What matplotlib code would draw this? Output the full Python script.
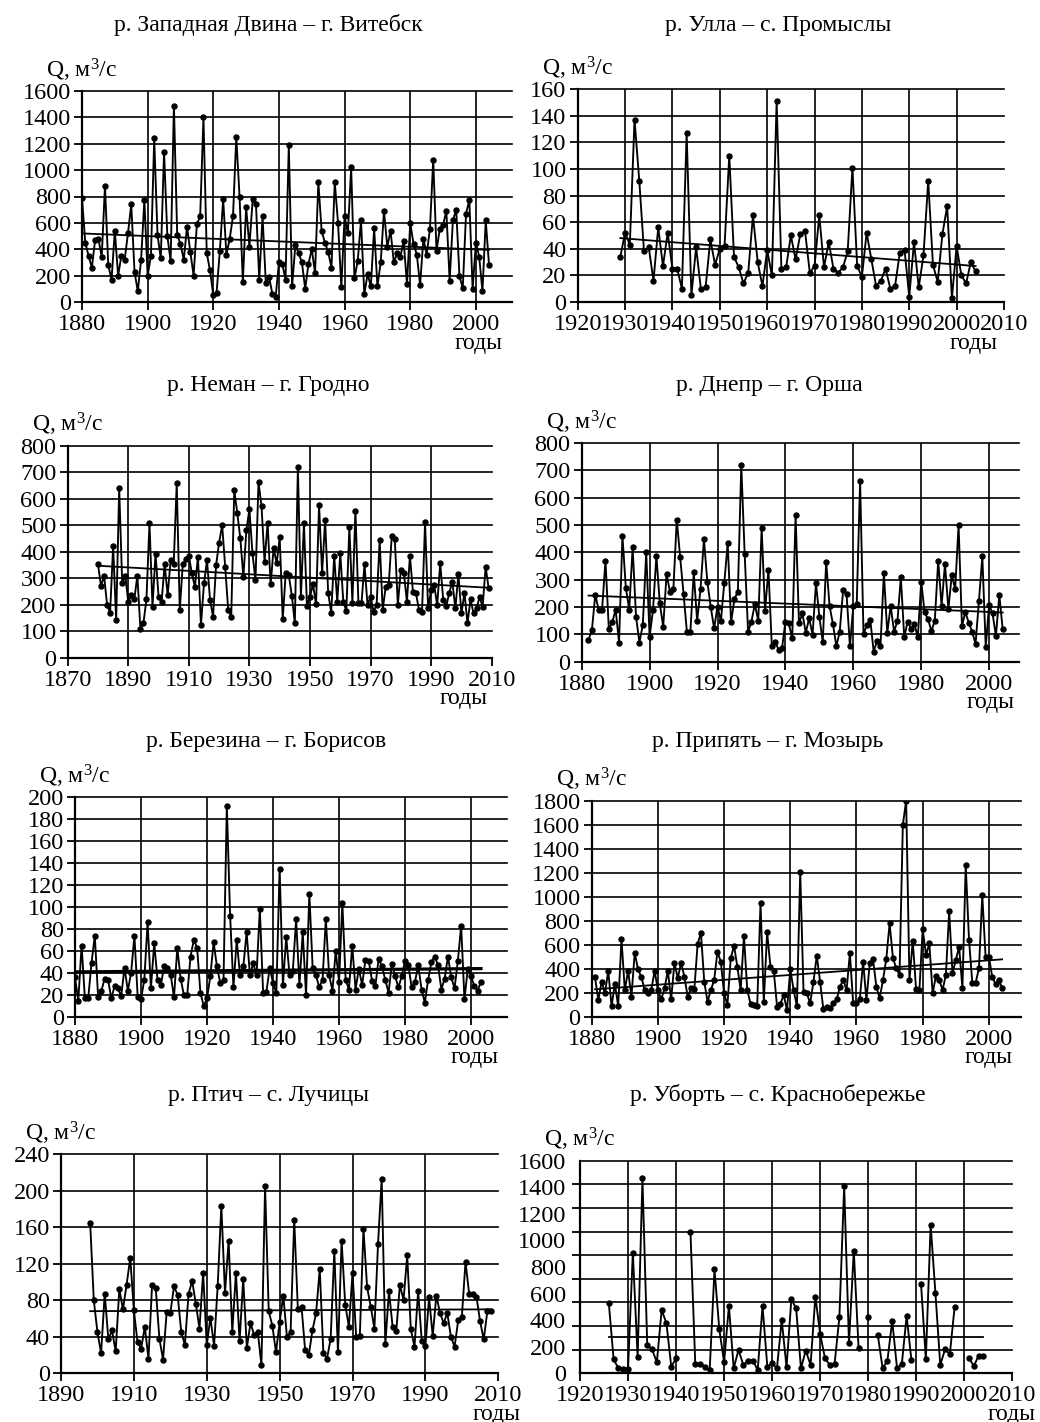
import matplotlib
matplotlib.use("Agg")
import matplotlib.pyplot as plt
import numpy as np

plt.rcParams['font.family'] = ['Liberation Serif', 'DejaVu Serif']
plt.rcParams['mathtext.fontset'] = 'custom'
plt.rcParams['mathtext.rm'] = 'Liberation Serif'
plt.rcParams['mathtext.it'] = 'Liberation Serif:italic'

# --- data (mean annual discharge, m3/s) ---
dvina_start = 1880
dvina_q = [790, 450, 350, 260, 470, 480, 340, 880, 280, 170,
           540, 200, 350, 320, 520, 740, 230, 80, 320, 770,
           200, 350, 1240, 510, 330, 1140, 500, 310, 1490, 510,
           440, 320, 570, 380, 200, 590, 650, 1400, 370, 240,
           50, 70, 390, 780, 360, 480, 650, 1250, 800, 150,
           720, 420, 780, 740, 170, 650, 145, 190, 60, 40,
           300, 290, 170, 1190, 120, 430, 370, 300, 100, 290,
           400, 220, 910, 540, 450, 380, 260, 910, 600, 110,
           650, 520, 1020, 180, 310, 620, 60, 210, 120, 560,
           120, 300, 690, 420, 540, 300, 370, 345, 460, 135,
           600, 440, 360, 130, 480, 360, 555, 1080, 390, 555,
           585, 690, 160, 620, 700, 195, 105, 670, 775, 98,
           450, 345, 80, 620, 280]
dvina_trend = [520, 395]

ulla_start = 1929
ulla_q = [34, 52, 43, 137, 91, 38, 41, 16, 56, 27,
          52, 25, 25, 10, 127, 5, 41, 10, 11, 47,
          28, 40, 42, 110, 34, 26, 14, 22, 65, 30,
          12, 39, 20, 151, 25, 26, 50, 32, 51, 53,
          22, 27, 65, 26, 45, 25, 22, 26, 38, 101,
          27, 19, 52, 32, 12, 16, 25, 10, 12, 37,
          39, 4, 45, 11, 35, 91, 28, 15, 51, 72,
          3, 42, 20, 14, 30, 23]
ulla_trend = [48, 27]

neman_start = 1880
neman_q = [353, 270, 310, 200, 170, 420, 142, 640, 280, 310,
           210, 235, 220, 310, 110, 130, 220, 507, 192, 393,
           230, 210, 352, 236, 368, 353, 658, 180, 353, 371,
           384, 318, 268, 381, 123, 280, 368, 218, 155, 350,
           434, 500, 343, 180, 155, 633, 545, 450, 305, 482,
           560, 394, 293, 662, 572, 362, 510, 277, 413, 356,
           454, 145, 321, 312, 234, 130, 718, 230, 507, 196,
           230, 277, 201, 576, 321, 520, 245, 170, 384, 211,
           394, 211, 176, 492, 208, 555, 205, 205, 352, 199,
           230, 174, 199, 444, 180, 268, 274, 460, 448, 199,
           331, 321, 211, 384, 249, 243, 180, 174, 511, 186,
           255, 274, 199, 356, 218, 195, 245, 287, 186, 316,
           167, 245, 130, 220, 167, 186, 230, 192, 343, 262]
neman_trend = [347, 264]

dnepr_start = 1882
dnepr_q = [80, 115, 245, 190, 190, 370, 118, 145, 190, 70,
           460, 270, 190, 418, 165, 70, 135, 400, 90, 190,
           387, 214, 128, 320, 256, 265, 520, 382, 248, 107,
           107, 327, 149, 265, 448, 293, 201, 122, 201, 149,
           289, 433, 144, 230, 256, 718, 394, 110, 147, 211,
           149, 488, 187, 336, 57, 73, 43, 49, 147, 140,
           85, 537, 140, 177, 106, 159, 98, 287, 165, 71,
           366, 204, 138, 57, 110, 263, 248, 57, 204, 210,
           662, 101, 134, 153, 37, 77, 57, 324, 106, 204,
           110, 149, 309, 89, 147, 120, 138, 89, 293, 180,
           156, 112, 150, 369, 205, 357, 192, 317, 265, 500,
           132, 181, 143, 110, 65, 223, 385, 55, 208, 177,
           94, 244, 118]
dnepr_trend = [242, 180]

berezina_start = 1880
berezina_q = [36, 15, 65, 17, 17, 49, 74, 18, 24, 35,
              34, 17, 28, 26, 19, 45, 24, 40, 74, 18,
              16, 34, 86, 26, 67, 34, 29, 46, 45, 38,
              18, 63, 35, 20, 20, 55, 70, 63, 22, 10,
              17, 37, 68, 46, 31, 34, 192, 92, 27, 70,
              38, 46, 77, 38, 49, 38, 98, 22, 23, 45,
              31, 22, 135, 29, 73, 38, 42, 89, 29, 77,
              20, 112, 45, 38, 27, 34, 89, 38, 24, 60,
              32, 104, 34, 25, 65, 25, 44, 29, 52, 51,
              33, 28, 53, 46, 34, 22, 48, 37, 27, 37,
              51, 47, 27, 32, 47, 25, 13, 34, 50, 55,
              47, 25, 35, 55, 36, 26, 51, 83, 16, 44,
              37, 28, 24, 32]
berezina_trend = [41, 44]

pripyat_start = 1881
pripyat_q = [328, 139, 292, 194, 383, 89, 272, 89, 647, 222,
             383, 167, 533, 394, 333, 222, 194, 222, 383, 222,
             144, 236, 383, 144, 450, 319, 450, 333, 167, 236,
             228, 605, 700, 292, 125, 222, 306, 542, 458, 194,
             97, 486, 592, 417, 222, 672, 222, 106, 97, 89,
             950, 125, 703, 417, 383, 83, 106, 181, 56, 397,
             222, 89, 1208, 208, 194, 111, 292, 508, 292, 61,
             83, 69, 111, 144, 250, 306, 222, 528, 111, 111,
             144, 458, 139, 444, 478, 250, 153, 306, 480, 778,
             492, 403, 347, 1597, 1800, 306, 631, 228, 222, 728,
             514, 611, 194, 339, 306, 222, 347, 881, 361, 472,
             583, 236, 1264, 639, 278, 283, 403, 1014, 500, 500,
             333, 272, 306, 242]
pripyat_trend = [228, 478]

ptich_start = 1898
ptich_q = [165, 80, 45, 22, 87, 37, 47, 24, 92, 70,
           97, 126, 69, 34, 27, 51, 16, 97, 93, 38,
           15, 67, 66, 95, 86, 45, 31, 87, 101, 76,
           49, 110, 31, 61, 30, 96, 183, 88, 145, 45,
           110, 35, 103, 28, 55, 42, 45, 9, 205, 68,
           52, 23, 56, 85, 40, 45, 168, 70, 73, 25,
           20, 47, 66, 114, 22, 16, 38, 134, 23, 145,
           75, 51, 110, 40, 41, 158, 94, 73, 49, 142,
           213, 32, 90, 51, 46, 97, 80, 129, 48, 29,
           90, 35, 30, 83, 41, 85, 66, 55, 66, 40,
           29, 58, 62, 122, 87, 87, 84, 57, 37, 68,
           68]
ptich_trend = [68, 70]

uborty_start = 1926
uborty_q = [527, 105, 38, 30, 30, 908, 120, 1467, 213, 180,
            83, 477, 376, 50, 113, None, None, 1061, 70, 70,
            50, 25, 782, 331, 83, 507, 38, 176, 63, 95,
            95, 25, 507, 50, 75, 38, 401, 45, 557, 489,
            38, 171, 63, 577, 296, 113, 63, 70, 421, 1410,
            226, 923, 188, None, 421, None, 288, 38, 95, 396,
            38, 70, 431, 100, None, 672, 105, 1116, 602, 63,
            180, 145, 502, None, None, 113, 55, 133, 133]
uborty_trend = [271, 271]

titles = ["р. Западная Двина – г. Витебск", "р. Улла – с. Промыслы",
          "р. Неман – г. Гродно", "р. Днепр – г. Орша",
          "р. Березина – г. Борисов", "р. Припять – г. Мозырь",
          "р. Птич – с. Лучицы", "р. Уборть – с. Краснобережье"]

W, H = 1040, 1422
fig = plt.figure(figsize=(W / 100, H / 100), dpi=100)


def panel(box, title, start, q, trend, xlim, xticks, ymax, ystep, title_xy,
          godi_dx, trend_lw=1.3, ngrid=None):
    l, r, t, b = box
    ax = fig.add_axes([l / W, 1 - b / H, (r - l) / W, (b - t) / H])
    yrs = np.arange(start, start + len(q))
    vals = np.array([np.nan if v is None else v for v in q], dtype=float)

    ax.set_xlim(*xlim)
    ax.set_ylim(0, ymax)
    yt = np.arange(0, ymax + 1, ystep)
    ax.set_xticks(xticks)
    ax.set_yticks(yt)

    if ngrid is None:
        glines = yt
        ax.tick_params(axis='y', length=6, width=1.3, pad=2)
    else:
        # this panel's grid does not coincide with its labels
        glines = np.linspace(0, ymax, ngrid + 1)
        ax.set_yticks(glines, minor=True)
        ax.tick_params(axis='y', which='major', length=0, pad=10)
        ax.tick_params(axis='y', which='minor', length=6, width=1.3)
    for g in glines:
        ax.axhline(g, color='k', lw=1.2, zorder=1, clip_on=False)
    for x in xticks:
        if xlim[0] < x < xlim[1] - 0.5:
            ax.axvline(x, color='k', lw=1.2, zorder=1)

    ax.plot(yrs, vals, color='k', lw=1.35, marker='o', ms=3.6, zorder=3)
    ax.plot([yrs[0], yrs[-1]], trend, color='k', lw=trend_lw, zorder=2)

    for s in ['top', 'right']:
        ax.spines[s].set_visible(False)
    for s in ['left', 'bottom']:
        ax.spines[s].set_linewidth(1.6)
    ax.tick_params(axis='x', length=6, width=1.3, pad=2.5)
    ax.tick_params(labelsize=17.5)

    ax.annotate('Q, м$^3$/с', xy=(0, 1), xycoords='axes fraction',
                xytext=(-36, 21), textcoords='offset pixels',
                ha='left', va='center', fontsize=17)
    ax.annotate('годы', xy=(1, 0), xycoords='axes fraction',
                xytext=(godi_dx, -41), textcoords='offset pixels',
                ha='right', va='center', fontsize=17)
    fig.text(title_xy[0] / W, 1 - title_xy[1] / H, title,
             ha='center', va='center', fontsize=17)
    return ax


panel((82, 512, 91, 302), titles[0], dvina_start, dvina_q, dvina_trend,
      (1880, 2011), range(1880, 2001, 20), 1600, 200, (268, 25), -9)
panel((577.7, 1004, 89, 302), titles[1], ulla_start, ulla_q, ulla_trend,
      (1920, 2010), range(1920, 2011, 10), 160, 20, (778, 25), -6)
panel((67.7, 491.7, 445.7, 657.7), titles[2], neman_start, neman_q,
      neman_trend, (1870, 2010), range(1870, 2011, 20), 800, 100,
      (268, 385), -4)
panel((581.7, 1019, 443, 661.7), titles[3], dnepr_start, dnepr_q,
      dnepr_trend, (1880, 2008.8), range(1880, 2001, 20), 800, 100,
      (769, 385), -4)
panel((75, 506.7, 797, 1017), titles[4], berezina_start, berezina_q,
      berezina_trend, (1880, 2010.8), range(1880, 2001, 20), 200, 20,
      (266, 742), -8, trend_lw=2.3)
panel((591.7, 1021, 800.7, 1016.7), titles[5], pripyat_start, pripyat_q,
      pripyat_trend, (1880, 2009.7), range(1880, 2001, 20), 1800, 200,
      (768, 742), -8)
panel((61, 498.3, 1154, 1373.3), titles[6], ptich_start, ptich_q,
      ptich_trend, (1890, 2010), range(1890, 2011, 20), 240, 40,
      (268, 1095), 22)
panel((580, 1012.3, 1160.7, 1373.3), titles[7], uborty_start, uborty_q,
      uborty_trend, (1920, 2010), range(1920, 2011, 10), 1600, 200,
      (778, 1095), 23, ngrid=9)

fig.savefig("out.png", dpi=100, facecolor='white')
